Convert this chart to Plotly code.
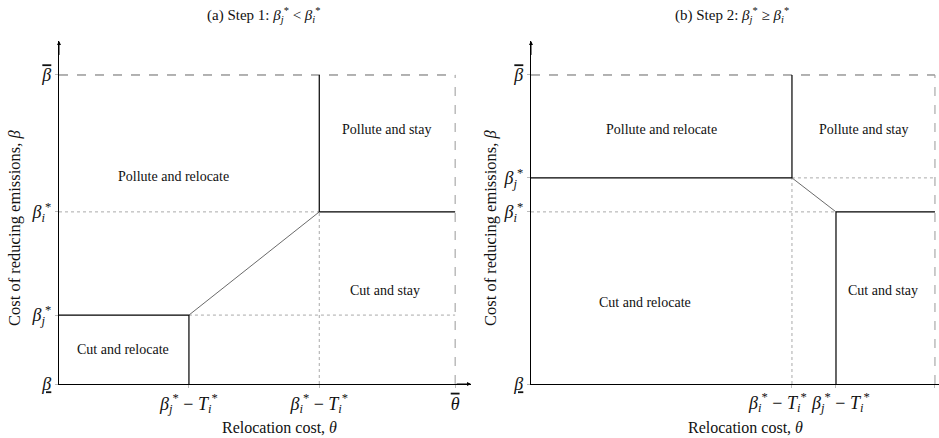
import plotly.graph_objects as go

# ---- data (normalised threshold positions) ----
# panel (a): beta_j* < beta_i*
a_theta_ticks = [0.328, 0.657, 1.0]          # βj*-Ti*, βi*-Ti*, θ̄
a_beta_ticks = [0.0, 0.223, 0.557, 1.0]       # β_, βj*, βi*, β̄
# panel (b): beta_j* >= beta_i*
b_theta_ticks = [0.646, 0.755, 1.0]          # βi*-Ti*, βj*-Ti*, θ̄
b_beta_ticks = [0.0, 0.557, 0.667, 1.0]       # β_, βi*, βj*, β̄

OVB = '<span style="text-decoration:overline"><i>β</i></span>'
OVT = '<span style="text-decoration:overline"><i>θ</i></span>'
UNB = "<u><i>β</i></u>"
BJ = "<i>β</i><sub><i>j</i></sub><sup>*</sup>"
BI = "<i>β</i><sub><i>i</i></sub><sup>*</sup>"
TI = "<i>T</i><sub><i>i</i></sub><sup>*</sup>"

a_x_ticktext = [BJ + " − " + TI, BI + " − " + TI, OVT]
a_y_ticktext = [UNB, BJ, BI, OVB]
b_x_ticktext = [BI + " − " + TI, BJ + " − " + TI, OVT]
b_y_ticktext = [UNB, BI, BJ, OVB]

region_labels = ["Pollute and relocate", "Pollute and stay", "Cut and stay", "Cut and relocate"]
a_label_x = [0.290, 0.826, 0.823, 0.162]
a_label_y = [0.673, 0.825, 0.301, 0.113]
b_label_x = [0.322, 0.824, 0.871, 0.282]
b_label_y = [0.822, 0.822, 0.301, 0.265]

titles = ["(a) Step 1: " + BJ + " < " + BI, "(b) Step 2: " + BJ + " ≥ " + BI]
x_title = "Relocation cost, <i>θ</i>"
y_title = "Cost of reducing emissions, <i>β</i>"

FONT = "Liberation Serif"
W, H = 939, 438
TXT = "#111"


def px(x):
    return x / W


def py(y):
    return 1 - y / H


fig = go.Figure()


def seg(x, y, xa, ya, color="black", width=1.2, dash="solid"):
    fig.add_trace(go.Scatter(x=x, y=y, mode="lines", xaxis=xa, yaxis=ya,
                             line=dict(color=color, width=width, dash=dash),
                             hoverinfo="skip", showlegend=False))


# panel (a) boundaries
tx, by = a_theta_ticks, a_beta_ticks
xa, ya = "x", "y"
seg([0, 1], [1, 1], xa, ya, "#666", 1, "dash")
seg([1, 1], [0, 1], xa, ya, "#999", 1, "dash")
seg([0, tx[1]], [by[2], by[2]], xa, ya, "#aaa", 1, "dot")
seg([tx[0], 1], [by[1], by[1]], xa, ya, "#aaa", 1, "dot")
seg([tx[1], tx[1]], [0, by[2]], xa, ya, "#aaa", 1, "dot")
seg([tx[1], tx[1]], [by[2], 1], xa, ya)
seg([tx[1], 1], [by[2], by[2]], xa, ya)
seg([tx[0], tx[1]], [by[1], by[2]], xa, ya, "#444", 0.8)
seg([0, tx[0]], [by[1], by[1]], xa, ya)
seg([tx[0], tx[0]], [0, by[1]], xa, ya)

# panel (b) boundaries
tx, by = b_theta_ticks, b_beta_ticks
xa, ya = "x2", "y2"
seg([0, 1], [1, 1], xa, ya, "#666", 1, "dash")
seg([1, 1], [0, 1], xa, ya, "#999", 1, "dash")
seg([tx[0], 1], [by[2], by[2]], xa, ya, "#aaa", 1, "dot")
seg([0, tx[1]], [by[1], by[1]], xa, ya, "#aaa", 1, "dot")
seg([tx[0], tx[0]], [0, by[2]], xa, ya, "#aaa", 1, "dot")
seg([tx[0], tx[0]], [by[2], 1], xa, ya)
seg([0, tx[0]], [by[2], by[2]], xa, ya)
seg([tx[0], tx[1]], [by[2], by[1]], xa, ya, "#444", 0.8)
seg([tx[1], 1], [by[1], by[1]], xa, ya)
seg([tx[1], tx[1]], [0, by[1]], xa, ya)

# region labels
for lab, x, y in zip(region_labels, a_label_x, a_label_y):
    fig.add_annotation(x=x, y=y, xref="x", yref="y", text=lab, showarrow=False,
                       xanchor="center", yanchor="middle",
                       font=dict(family=FONT, size=14, color=TXT))
for lab, x, y in zip(region_labels, b_label_x, b_label_y):
    fig.add_annotation(x=x, y=y, xref="x2", yref="y2", text=lab, showarrow=False,
                       xanchor="center", yanchor="middle",
                       font=dict(family=FONT, size=14, color=TXT))

# panel (b) close-together theta tick labels, offset like the original
for txt, xv, anchor, shift in [(b_x_ticktext[0], b_theta_ticks[0], "right", 17),
                               (b_x_ticktext[1], b_theta_ticks[1], "left", -27)]:
    fig.add_annotation(x=xv, y=0, xref="x2", yref="y2", text=txt, showarrow=False,
                       xanchor=anchor, yanchor="top", xshift=shift, yshift=-4,
                       font=dict(family=FONT, size=18, color=TXT))

# arrowheads at axis tips
XMAX_A, XMAX_B, YMAX = 1.04, 1.01, 1.11
for xr, yr, xm in [("x", "y", XMAX_A), ("x2", "y2", XMAX_B)]:
    fig.add_annotation(x=0, y=YMAX, ax=0, ay=YMAX - 0.05, xref=xr, yref=yr,
                       axref=xr, ayref=yr, showarrow=True, arrowhead=2,
                       arrowsize=0.8, arrowwidth=1, arrowcolor="black", text="")
    if xm > 1.02:
        fig.add_annotation(x=xm, y=0, ax=xm - 0.04, ay=0, xref=xr, yref=yr,
                           axref=xr, ayref=yr, showarrow=True, arrowhead=2,
                           arrowsize=0.8, arrowwidth=1, arrowcolor="black", text="")

# titles
for t, cx in zip(titles, [264, 732]):
    fig.add_annotation(x=px(cx), y=py(15), xref="paper", yref="paper", text=t,
                       xanchor="center", yanchor="middle", showarrow=False,
                       font=dict(family=FONT, size=15, color=TXT))

# axis titles
for cx in [279, 745]:
    fig.add_annotation(x=px(cx), y=py(427), xref="paper", yref="paper", text=x_title,
                       xanchor="center", yanchor="middle", showarrow=False,
                       font=dict(family=FONT, size=16, color=TXT))
for cx in [14, 490]:
    fig.add_annotation(x=px(cx), y=py(228), xref="paper", yref="paper", text=y_title,
                       textangle=-90, xanchor="center", yanchor="middle", showarrow=False,
                       font=dict(family=FONT, size=16.5, color=TXT))

ax_common = dict(showgrid=False, zeroline=False, showline=True, linecolor="black",
                 linewidth=1.2, ticks="outside", ticklen=3, tickcolor="#bbb",
                 tickangle=0, automargin=False,
                 tickfont=dict(family=FONT, size=18, color=TXT), fixedrange=True)

ydom = [py(384), py(41)]
fig.update_layout(
    template="none",
    width=W, height=H, margin=dict(l=0, r=0, t=0, b=0, pad=0),
    plot_bgcolor="white", paper_bgcolor="white", showlegend=False,
    xaxis=dict(domain=[px(59), px(471)], range=[0, XMAX_A], tickvals=a_theta_ticks,
               ticktext=a_x_ticktext, anchor="y", **ax_common),
    yaxis=dict(domain=ydom, range=[0, YMAX], tickvals=a_beta_ticks,
               ticktext=a_y_ticktext, anchor="x", **ax_common),
    xaxis2=dict(domain=[px(531), px(939)], range=[0, XMAX_B], tickvals=b_theta_ticks,
                ticktext=["", "", b_x_ticktext[2]], anchor="y2", **ax_common),
    yaxis2=dict(domain=ydom, range=[0, YMAX], tickvals=b_beta_ticks,
                ticktext=b_y_ticktext, anchor="x2", **ax_common),
)

fig.write_html("out.html", config={"displayModeBar": False},
               post_script="document.body.style.margin='0px';document.body.style.overflow='hidden';")
